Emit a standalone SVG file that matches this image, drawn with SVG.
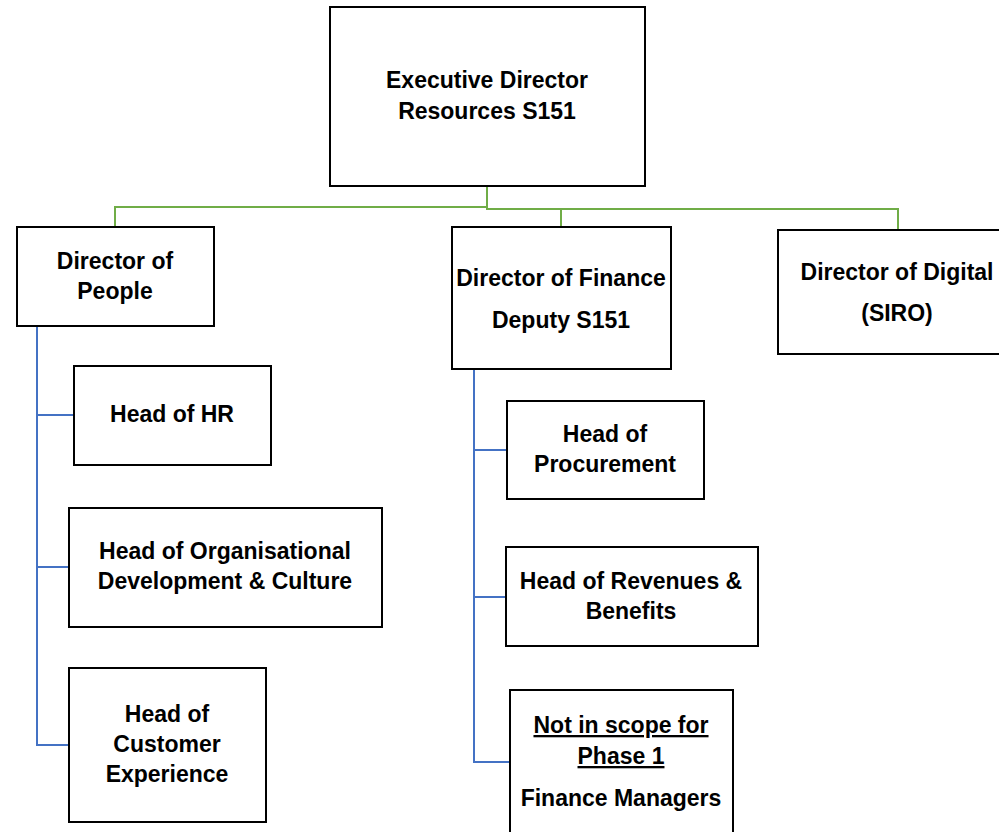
<svg xmlns="http://www.w3.org/2000/svg" width="999" height="832" viewBox="0 0 999 832">
<style>
.box{fill:#fff;stroke:#000;stroke-width:2}
.t{font-family:"Liberation Sans",Arial,sans-serif;font-weight:bold;font-size:23px;fill:#000;text-anchor:middle}
.g{fill:none;stroke:#70ad47;stroke-width:2}
.b{fill:none;stroke:#4472c4;stroke-width:2}
</style>
<rect width="999" height="832" fill="#fff"/>
<g id="connectors">
<path class="g" d="M487,186 V207 H115 V227"/>
<path class="g" d="M487,207 V209 H898 V230"/>
<path class="g" d="M561,209 V227"/>
<path class="b" d="M37,326 V745 H69"/>
<path class="b" d="M37,415 H74"/>
<path class="b" d="M37,567 H69"/>
<path class="b" d="M474,369 V762 H510"/>
<path class="b" d="M474,450 H507"/>
<path class="b" d="M474,597 H506"/>
</g>
<g id="exec">
<rect class="box" x="330" y="7" width="315" height="179"/>
<text class="t" x="487" y="88">Executive Director</text>
<text class="t" x="487" y="119">Resources S151</text>
</g>
<g id="people">
<rect class="box" x="17" y="227" width="197" height="99"/>
<text class="t" x="115" y="269">Director of</text>
<text class="t" x="115" y="299">People</text>
</g>
<g id="finance">
<rect class="box" x="452" y="227" width="219" height="142"/>
<text class="t" x="561" y="286">Director of Finance</text>
<text class="t" x="561" y="328">Deputy S151</text>
</g>
<g id="digital">
<rect class="box" x="778" y="230" width="230" height="124"/>
<text class="t" x="897" y="280">Director of Digital</text>
<text class="t" x="897" y="321">(SIRO)</text>
</g>
<g id="hr">
<rect class="box" x="74" y="366" width="197" height="99"/>
<text class="t" x="172" y="422">Head of HR</text>
</g>
<g id="orgdev">
<rect class="box" x="69" y="508" width="313" height="119"/>
<text class="t" x="225" y="559">Head of Organisational</text>
<text class="t" x="225" y="589">Development &amp; Culture</text>
</g>
<g id="customer">
<rect class="box" x="69" y="668" width="197" height="154"/>
<text class="t" x="167" y="722">Head of</text>
<text class="t" x="167" y="752">Customer</text>
<text class="t" x="167" y="782">Experience</text>
</g>
<g id="procurement">
<rect class="box" x="507" y="401" width="197" height="98"/>
<text class="t" x="605" y="442">Head of</text>
<text class="t" x="605" y="472">Procurement</text>
</g>
<g id="revenues">
<rect class="box" x="506" y="547" width="252" height="99"/>
<text class="t" x="631" y="589">Head of Revenues &amp;</text>
<text class="t" x="631" y="619">Benefits</text>
</g>
<g id="managers">
<rect class="box" x="510" y="690" width="223" height="150"/>
<text class="t" x="621" y="733" text-decoration="underline">Not in scope for</text>
<text class="t" x="621" y="764" text-decoration="underline">Phase 1</text>
<text class="t" x="621" y="806">Finance Managers</text>
</g>
</svg>
